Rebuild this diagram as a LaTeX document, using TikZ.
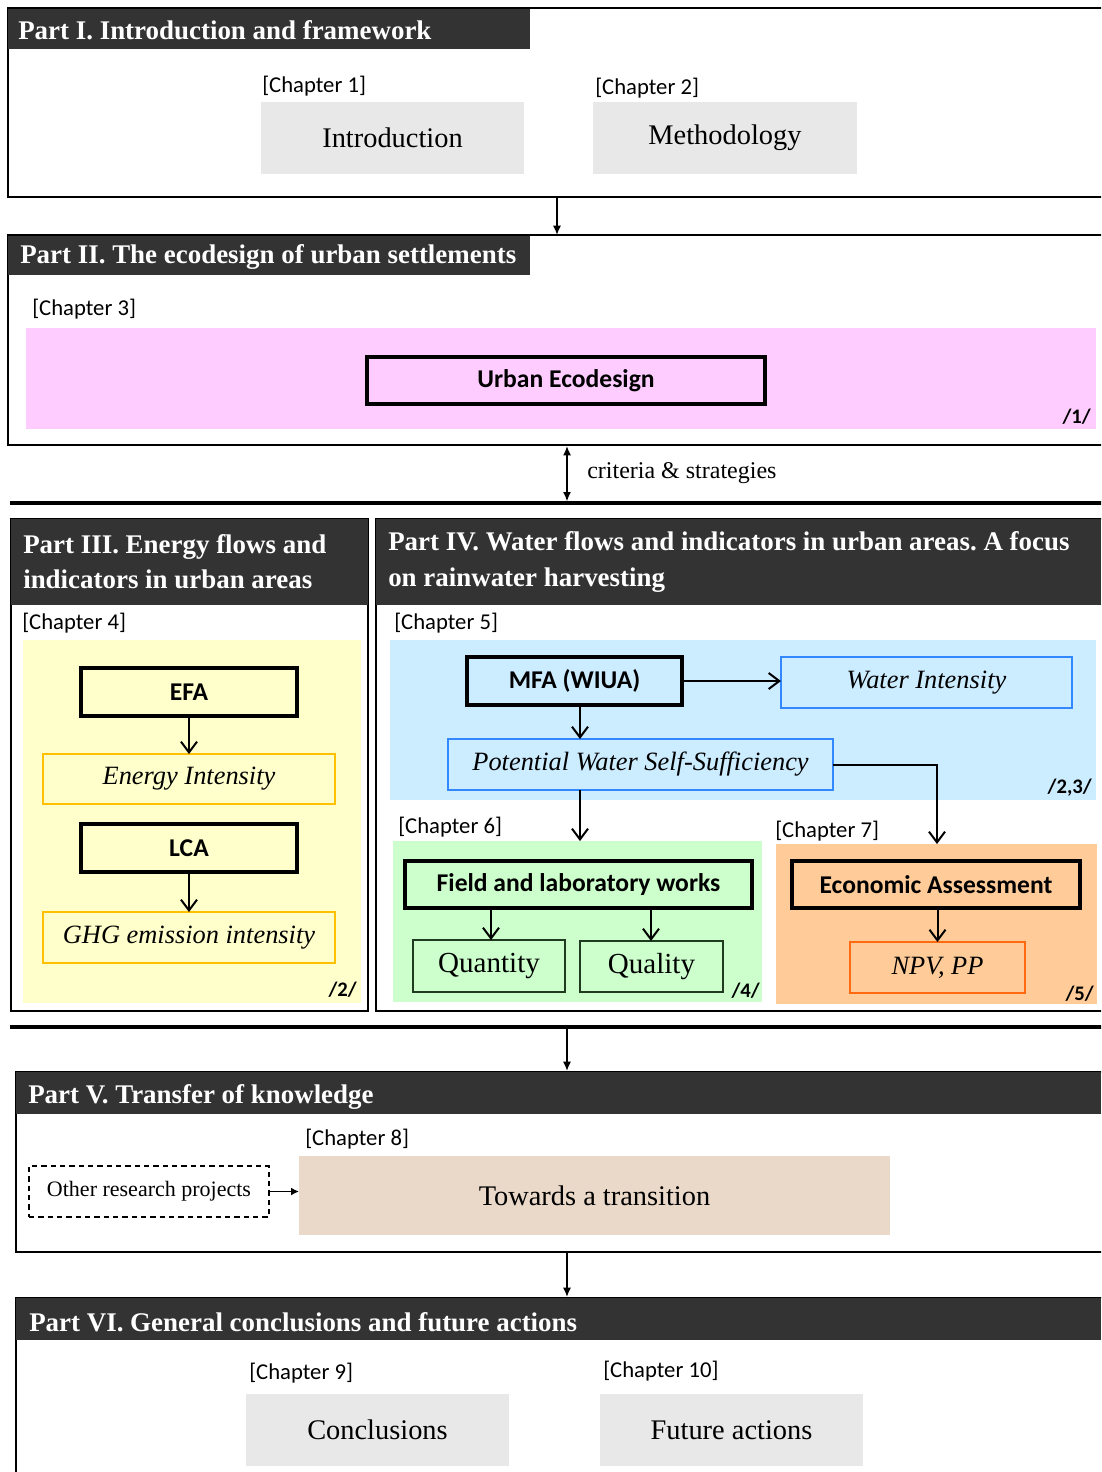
\documentclass[tikz,border=0pt]{standalone}
\usepackage{fontspec}
\setmainfont{Liberation Serif}
\newfontfamily\calfont{Carlito}
\usetikzlibrary{arrows.meta}
\definecolor{hdrgray}{HTML}{333333}
\definecolor{boxgray}{HTML}{E8E8E8}
\definecolor{pinkfill}{HTML}{FFCCFF}
\definecolor{yelfill}{HTML}{FFFFCC}
\definecolor{yelline}{HTML}{FFC000}
\definecolor{bluefill}{HTML}{CCECFF}
\definecolor{blueline}{HTML}{3388FF}
\definecolor{greenfill}{HTML}{CCFFCC}
\definecolor{greenline}{HTML}{1F3A1F}
\definecolor{orfill}{HTML}{FFCC99}
\definecolor{orline}{HTML}{FF6A10}
\definecolor{tanfill}{HTML}{EAD9C8}
\tikzset{
  bx/.style n args={4}{anchor=center, at={({(#1+#3)/2},{(#2+#4)/2})},
     minimum width={(#3-#1)*0.75pt}, minimum height={(#4-#2)*0.75pt},
     outer sep=0pt, inner sep=0pt},
  frame/.style={draw=black, line width=1.5pt},
  hdr/.style={fill=hdrgray, draw=none},
  hdrtext/.style={text=white, font=\bfseries\fontsize{20.2}{26.3}\selectfont, anchor=west, inner sep=0pt, align=left},
  chap/.style={font=\calfont\fontsize{17}{20}\selectfont, anchor=west, inner sep=0pt},
  region/.style={draw=none},
  graybox/.style={fill=boxgray, draw=none, font=\fontsize{21.3}{24}\selectfont},
  thickbox/.style={draw=black, line width=2.3pt, font=\calfont\bfseries\fontsize{19.2}{22}\selectfont},
  itbox/.style={line width=1.1pt, font=\itshape\fontsize{19.8}{23}\selectfont},
  rmbox/.style={line width=1.1pt, font=\fontsize{21.8}{24}\selectfont},
  tag/.style={font=\calfont\bfseries\fontsize{15.5}{18}\selectfont, anchor=east, inner sep=0pt},
  partarrow/.style={line width=1.2pt, -{Latex[length=7pt,width=6pt]}},
  inarrow/.style={line width=1.5pt, -{Straight Barb[length=8pt,width=12pt]}},
  sepline/.style={line width=2.4pt},
}
\begin{document}
\frenchspacing
\begin{tikzpicture}[x=0.75pt,y=-0.75pt]
\useasboundingbox (0,0) rectangle (1101,1472);
\clip (0,0) rectangle (1101,1472);
% helper coordinates
\coordinate (xa) at (557,0);
\coordinate (xb) at (567,0);
\coordinate (x580) at (580,0);
\coordinate (x937) at (937,0);
\coordinate (x491) at (491,0);
\coordinate (x651) at (651,0);

% ---------- Part I ----------
\node[frame, bx={8}{8}{1120}{197}] (p1) {};
\node[hdr, bx={8}{9}{530}{49}] (h1) {};
\node[hdrtext] (t1) at (18,30) {Part I. Introduction and framework};
\node[chap] (c1) at (262,86) {[Chapter 1]};
\node[graybox, bx={261}{102}{524}{174}] (intro) {Introduction};
\node[chap] (c2) at (595,88) {[Chapter 2]};
\node[graybox, bx={593}{102}{857}{174}] (meth) {Methodology};

% ---------- Part II ----------
\node[frame, bx={8}{235}{1120}{445}] (p2) {};
\node[hdr, bx={8}{236}{530}{275}] (h2) {};
\node[hdrtext] (t2) at (20,257) {Part II. The ecodesign of urban settlements};
\node[chap] (c3) at (32,309) {[Chapter 3]};
\node[region, fill=pinkfill, bx={26}{328}{1096}{429}] (pink) {};
\node[thickbox, bx={367}{357}{765}{404}] (ued) {Urban Ecodesign};
\node[tag] (g1) at (1091,417) {/1/};

\draw[partarrow] (p1.south -| xa) -- (p2.north -| xa);

% separator 1
\coordinate (s1l) at (10,503);
\coordinate (s1r) at (1110,503);
\draw[sepline] (s1l) -- (s1r);
\draw[line width=1.2pt, {Latex[length=7pt,width=6pt]}-{Latex[length=7pt,width=6pt]}] ([yshift=-0.75pt]p2.south -| xb) -- ([yshift=1.2pt]s1l -| xb);
\node[anchor=west, inner sep=0pt, font=\fontsize{18}{20}\selectfont] (crit) at (587,473) {criteria \& strategies};

% ---------- Part III ----------
\node[frame, bx={11}{519}{368}{1011}] (p3) {};
\node[hdr, bx={11}{519}{368}{605}] (h3) {};
\node[hdrtext] (t3) at (23,562) {Part III. Energy flows and\\indicators in urban areas};
\node[chap] (c4) at (22,623) {[Chapter 4]};
\node[region, fill=yelfill, bx={23}{640}{361}{1003}] (yel) {};
\node[thickbox, bx={81}{668}{297}{716}] (efa) {EFA};
\node[itbox, draw=yelline, bx={43}{754}{335}{804}] (eint) {Energy Intensity};
\node[thickbox, bx={81}{824}{297}{872}] (lca) {LCA};
\node[itbox, draw=yelline, bx={43}{912}{335}{963}] (ghg) {GHG emission intensity};
\node[tag] (g2) at (357,990) {/2/};
\draw[inarrow] (efa.south) -- (eint.north);
\draw[inarrow] (lca.south) -- (ghg.north);

% ---------- Part IV ----------
\node[frame, bx={376}{519}{1120}{1011}] (p4) {};
\node[hdr, bx={376}{519}{1101}{605}] (h4) {};
\node[hdrtext] (t4) at (388,562) {Part IV. Water flows and indicators in urban areas. A focus\\on rainwater harvesting};
\node[chap] (c5) at (394,623) {[Chapter 5]};
\node[region, fill=bluefill, bx={390}{640}{1096}{800}] (blue) {};
\node[thickbox, bx={467}{657}{682}{705}] (mfa) {MFA (WIUA)};
\node[itbox, draw=blueline, bx={781}{657}{1072}{708}] (wint) {Water Intensity};
\node[itbox, draw=blueline, bx={448}{739}{833}{790}] (pwss) {Potential Water Self-Sufficiency};
\node[tag] (g3) at (1092,788) {/2,3/};

\node[chap] (c6) at (398,827) {[Chapter 6]};
\node[region, fill=greenfill, bx={393}{841}{762}{1002}] (green) {};
\node[thickbox, bx={405}{861}{752}{908}] (field) {Field and laboratory works};
\node[rmbox, draw=greenline, bx={413}{940}{565}{992}] (quan) {Quantity};
\node[rmbox, draw=greenline, bx={580}{941}{723}{992}] (qual) {Quality};
\node[tag] (g4) at (760,991) {/4/};

\node[chap] (c7) at (775,831) {[Chapter 7]};
\node[region, fill=orfill, bx={776}{844}{1097}{1004}] (orange) {};
\node[thickbox, bx={792}{861}{1080}{908}] (econ) {Economic Assessment};
\node[itbox, draw=orline, bx={850}{942}{1025}{993}] (npv) {NPV, PP};
\node[tag] (g5) at (1094,994) {/5/};

\draw[inarrow] (mfa.east) -- (mfa.east -| wint.west);
\draw[inarrow] (mfa.south -| x580) -- (pwss.north -| x580);
\draw[inarrow] (pwss.south -| x580) -- (green.north -| x580);
\draw[inarrow] (pwss.east) -| (orange.north -| x937);
\draw[inarrow] (field.south -| x491) -- (quan.north -| x491);
\draw[inarrow] (field.south -| x651) -- (qual.north -| x651);
\draw[inarrow] (econ.south -| npv.north) -- (npv.north);

% separator 2
\coordinate (s2l) at (10,1027);
\coordinate (s2r) at (1110,1027);
\draw[sepline] (s2l) -- (s2r);

% ---------- Part V ----------
\node[frame, bx={16}{1072}{1120}{1252}] (p5) {};
\node[hdr, bx={16}{1072}{1101}{1114}] (h5) {};
\node[hdrtext] (t5) at (28,1097) {Part V. Transfer of knowledge};
\node[chap] (c8) at (305,1139) {[Chapter 8]};
\node[graybox, fill=tanfill, bx={299}{1156}{890}{1235}] (towards) {Towards a transition};
\node[draw=black, dashed, dash pattern=on 4pt off 3pt, line width=1.1pt, font=\fontsize{16.5}{19}\selectfont, bx={29}{1166}{269}{1217}] (other) {Other research projects};
\draw[line width=1.4pt, -{Latex[length=6pt,width=6pt]}] (other.east) -- (towards.west |- other.east);
\draw[partarrow] ([yshift=-1.2pt]s2l -| xb) -- ([yshift=0.75pt]p5.north -| xb);

% ---------- Part VI ----------
\node[frame, bx={16}{1298}{1120}{1490}] (p6) {};
\node[hdr, bx={16}{1298}{1101}{1340}] (h6) {};
\node[hdrtext] (t6) at (29,1322) {Part VI. General conclusions and future actions};
\node[chap] (c9) at (249,1373) {[Chapter 9]};
\node[graybox, bx={246}{1394}{509}{1466}] (concl) {Conclusions};
\node[chap] (c10) at (603,1371) {[Chapter 10]};
\node[graybox, bx={600}{1394}{863}{1466}] (future) {Future actions};
\draw[partarrow] ([yshift=-0.75pt]p5.south -| xb) -- ([yshift=0.75pt]p6.north -| xb);
\end{tikzpicture}
\end{document}
